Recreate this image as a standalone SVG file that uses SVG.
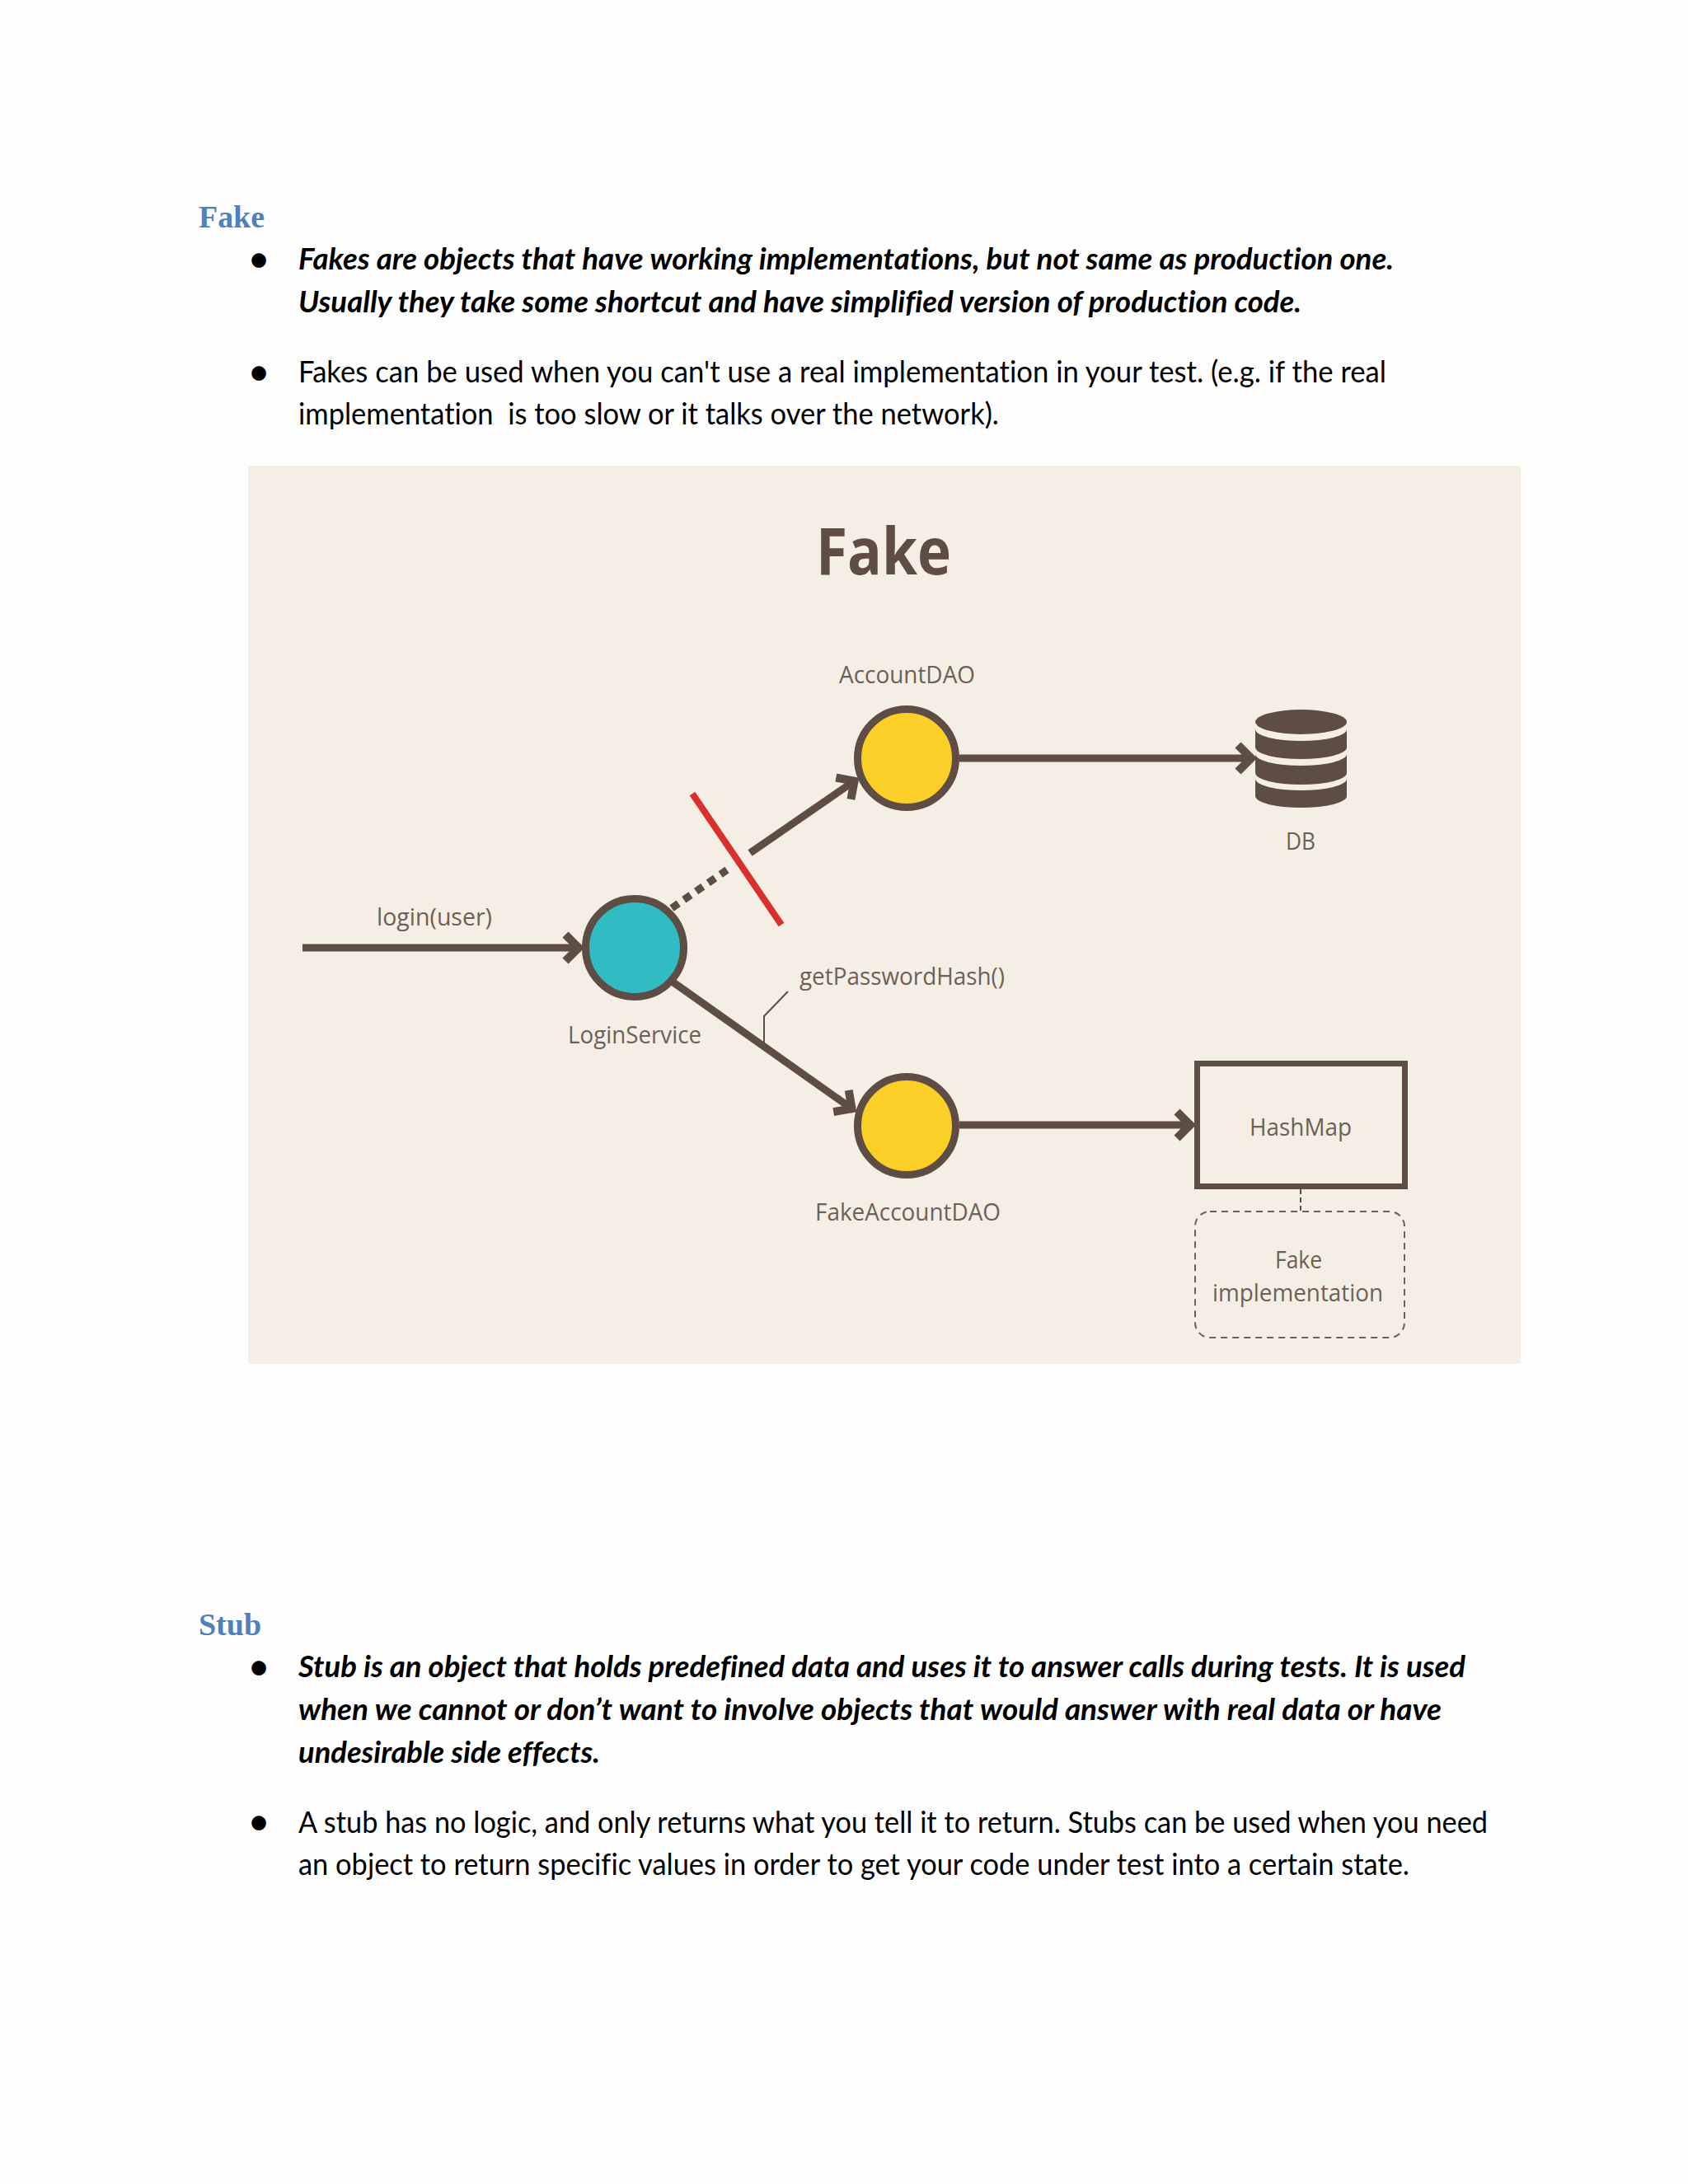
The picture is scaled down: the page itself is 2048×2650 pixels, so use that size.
<svg xmlns="http://www.w3.org/2000/svg" width="2048" height="2650" viewBox="0 0 2048 2650">
<style>
.h{font-family:"Liberation Serif",serif;font-weight:700;font-size:37px;fill:#4f81bd}
.b{font-family:Lato,"Liberation Sans",sans-serif;font-size:36px;fill:#000;font-variant-ligatures:none}
.bi{font-weight:700;font-style:italic}
.d{font-family:"DejaVu Sans",sans-serif;font-size:23px;fill:#000}
.l{font-family:"Open Sans","Liberation Sans",sans-serif;font-size:30px;fill:#6d6058}
.t{font-family:"Open Sans","Liberation Sans",sans-serif;font-weight:700;font-size:78px;fill:#5d4d45}
.n{stroke:#5d4d45;stroke-width:9}
.c{fill:none;stroke:#5d4d45;stroke-width:9}
.dbb{fill:#5d4d45}
</style>
<defs>
<marker id="arrow" markerUnits="userSpaceOnUse" markerWidth="40" markerHeight="50" viewBox="-30 -25 40 50" refX="0" refY="0" orient="auto">
<path d="M-19 -16L-3 0L-19 16" fill="none" stroke="#5d4d45" stroke-width="10"/>
</marker>
</defs>
<rect width="2048" height="2650" fill="#fefefe"/>
<g id="doc-top">
<text class="h" x="241" y="276" textLength="80" lengthAdjust="spacingAndGlyphs">Fake</text>
<text class="d" x="304" y="322">●</text>
<text class="b bi" x="362" y="326.500" textLength="1329" lengthAdjust="spacingAndGlyphs">Fakes are objects that have working implementations, but not same as production one.</text>
<text class="b bi" x="362" y="378.500" textLength="1217" lengthAdjust="spacingAndGlyphs">Usually they take some shortcut and have simplified version of production code.</text>
<text class="d" x="304" y="459">●</text>
<text class="b" x="362" y="463.500" textLength="1320" lengthAdjust="spacingAndGlyphs">Fakes can be used when you can't use a real implementation in your test. (e.g. if the real</text>
<text class="b" x="362" y="515" textLength="850" lengthAdjust="spacingAndGlyphs" xml:space="preserve">implementation  is too slow or it talks over the network).</text>
</g>
<rect id="panel" x="301" y="565" width="1544" height="1090" fill="#f5eee4"/>
<text id="title" class="t" x="990" y="697" textLength="164" lengthAdjust="spacingAndGlyphs">Fake</text>
<g id="connectors">
<path class="c" d="M367 1150H705" stroke-width="10" marker-end="url(#arrow)"/>
<path class="c" d="M815 1102L882 1055.500" stroke-dasharray="10 8"/>
<path class="c" d="M910 1035L1039 946" marker-end="url(#arrow)"/>
<path class="c" d="M817 1192L1036 1347" marker-end="url(#arrow)"/>
<path class="c" d="M1164 920H1521" marker-end="url(#arrow)"/>
<path class="c" d="M1164 1365H1447" marker-end="url(#arrow)"/>
<path d="M840 963L948 1122" fill="none" stroke="#d9302e" stroke-width="8"/>
<path d="M956 1203L927 1233V1265" fill="none" stroke="#5d4d45" stroke-width="2"/>
<path d="M1578 1443V1469" fill="none" stroke="#5d4d45" stroke-width="2" stroke-dasharray="6 4"/>
</g>
<g id="loginservice">
<circle class="n" cx="770" cy="1150" r="59.500" fill="#31bcc3"/>
<text class="l" x="689" y="1266" textLength="162" lengthAdjust="spacingAndGlyphs">LoginService</text>
</g>
<text id="login-label" class="l" x="457" y="1123" textLength="140" lengthAdjust="spacingAndGlyphs">login(user)</text>
<text id="hash-label" class="l" x="970" y="1195" textLength="249" lengthAdjust="spacingAndGlyphs">getPasswordHash()</text>
<g id="accountdao">
<circle class="n" cx="1100" cy="920" r="59.500" fill="#fbcf28"/>
<text class="l" x="1018" y="829" textLength="165" lengthAdjust="spacingAndGlyphs">AccountDAO</text>
</g>
<g id="fakeaccountdao">
<circle class="n" cx="1100" cy="1366" r="59.500" fill="#fbcf28"/>
<text class="l" x="989" y="1481" textLength="225" lengthAdjust="spacingAndGlyphs">FakeAccountDAO</text>
</g>
<g id="db">
<ellipse class="dbb" cx="1578.500" cy="876" rx="55.500" ry="15"/>
<path class="dbb" d="M1523 885A55.500 14 0 0 0 1634 885V907A55.500 14 0 0 1 1523 907Z"/>
<path class="dbb" d="M1523 915A55.500 14 0 0 0 1634 915V938A55.500 14 0 0 1 1523 938Z"/>
<path class="dbb" d="M1523 945A55.500 14 0 0 0 1634 945V966A55.500 14 0 0 1 1523 966Z"/>
<text class="l" x="1560" y="1031" textLength="36" lengthAdjust="spacingAndGlyphs">DB</text>
</g>
<g id="hashmap">
<rect x="1452.500" y="1290.500" width="252" height="149" fill="none" stroke="#5d4d45" stroke-width="7"/>
<text class="l" x="1516" y="1378" textLength="124" lengthAdjust="spacingAndGlyphs">HashMap</text>
</g>
<g id="fake-impl">
<rect x="1450" y="1470" width="254" height="153" rx="18" fill="none" stroke="#6d6058" stroke-width="2" stroke-dasharray="8 6"/>
<text class="l" x="1547" y="1539" textLength="57" lengthAdjust="spacingAndGlyphs">Fake</text>
<text class="l" x="1471" y="1579" textLength="207" lengthAdjust="spacingAndGlyphs">implementation</text>
</g>
<g id="doc-bottom">
<text class="h" x="241" y="1984" textLength="76" lengthAdjust="spacingAndGlyphs">Stub</text>
<text class="d" x="304" y="2030">●</text>
<text class="b bi" x="362" y="2034.500" textLength="1416" lengthAdjust="spacingAndGlyphs">Stub is an object that holds predefined data and uses it to answer calls during tests. It is used</text>
<text class="b bi" x="362" y="2086.500" textLength="1387" lengthAdjust="spacingAndGlyphs">when we cannot or don’t want to involve objects that would answer with real data or have</text>
<text class="b bi" x="362" y="2138.500" textLength="366" lengthAdjust="spacingAndGlyphs">undesirable side effects.</text>
<text class="d" x="304" y="2218">●</text>
<text class="b" x="362" y="2223.500" textLength="1443" lengthAdjust="spacingAndGlyphs">A stub has no logic, and only returns what you tell it to return. Stubs can be used when you need</text>
<text class="b" x="362" y="2275" textLength="1348" lengthAdjust="spacingAndGlyphs">an object to return specific values in order to get your code under test into a certain state.</text>
</g>
</svg>
